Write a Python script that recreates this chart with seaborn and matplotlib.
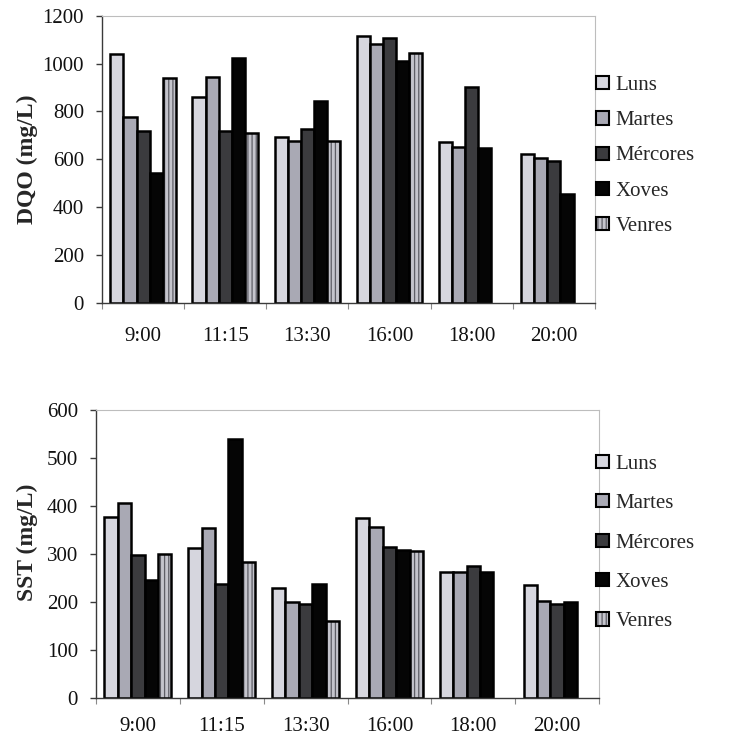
import numpy as np
import pandas as pd
import matplotlib
matplotlib.use("Agg")
import matplotlib.pyplot as plt
from matplotlib.colors import to_rgba
import seaborn as sns

# Sampling hours and weekdays
horas = ["9:00", "11:15", "13:30", "16:00", "18:00", "20:00"]
dias = ["Luns", "Martes", "Mércores", "Xoves", "Venres"]

# DQO (mg/L) per weekday, one value per sampling hour
dqo_luns = [1040, 860, 692, 1117, 671, 624]
dqo_martes = [776, 945, 675, 1082, 650, 604]
dqo_mercores = [717, 720, 725, 1108, 903, 593]
dqo_xoves = [545, 1022, 843, 1011, 647, 455]
dqo_venres = [939, 710, 676, 1043, np.nan, np.nan]

# SST (mg/L) per weekday, one value per sampling hour
sst_luns = [377, 313, 230, 374, 263, 235]
sst_martes = [406, 354, 201, 356, 263, 202]
sst_mercores = [297, 238, 195, 315, 274, 195]
sst_xoves = [245, 540, 238, 308, 262, 199]
sst_venres = [299, 283, 161, 307, np.nan, np.nan]

cores = ["#d6d6de", "#a9a9b4", "#3b3b3e", "#050505", "#c4c4cc"]
cor_raias = "#5e5e66"


def taboa(series):
    filas = []
    for dia, valores in zip(dias, series):
        for hora, v in zip(horas, valores):
            filas.append({"hora": hora, "dia": dia, "valor": v})
    return pd.DataFrame(filas)


def raiar(patch):
    patch.set_hatch("||||")
    if hasattr(patch, "set_hatchcolor"):
        patch.set_hatchcolor(cor_raias)
    else:
        patch._hatch_color = to_rgba(cor_raias)


sns.set_theme(style="white")
plt.rcParams["font.family"] = ["Liberation Serif", "DejaVu Serif"]
plt.rcParams["hatch.linewidth"] = 0.9

fig = plt.figure(figsize=(7.31, 7.39), dpi=100)

paneis = [
    dict(df=taboa([dqo_luns, dqo_martes, dqo_mercores, dqo_xoves, dqo_venres]),
         rect=[102 / 731, 1 - 303 / 739, 493 / 731, 287.3 / 739],
         ylim=1200, step=200, label="DQO (mg/L)", legy=1 - 156 / 739,
         legsp=0.78, labx=(38 - 102) / 493, laby=0.5, xpad=17),
    dict(df=taboa([sst_luns, sst_martes, sst_mercores, sst_xoves, sst_venres]),
         rect=[96 / 731, 1 - 698 / 739, 503 / 731, 288 / 739],
         ylim=600, step=100, label="SST (mg/L)", legy=1 - 543 / 739,
         legsp=0.98, labx=(38 - 96) / 503, laby=0.54, xpad=14),
]

for p in paneis:
    ax = fig.add_axes(p["rect"])
    sns.barplot(data=p["df"], x="hora", y="valor", hue="dia",
                order=horas, hue_order=dias, palette=cores,
                edgecolor="black", linewidth=1.8, width=0.8, gap=0,
                saturation=1, errorbar=None, ax=ax)
    for patch in ax.containers[4]:
        raiar(patch)

    ax.set_xlim(-0.5, 5.5)
    ax.set_ylim(0, p["ylim"])
    ax.set_yticks(np.arange(0, p["ylim"] + 1, p["step"]))
    ax.set_xlabel("")
    ax.set_ylabel(p["label"], fontsize=17, fontweight="bold", labelpad=0)
    ax.yaxis.set_label_coords(p["labx"], p["laby"])

    for s in ["top", "right"]:
        ax.spines[s].set_color("#bdbdbd")
        ax.spines[s].set_linewidth(0.8)
    for s in ["left", "bottom"]:
        ax.spines[s].set_color("#3a3a3a")
        ax.spines[s].set_linewidth(1.0)

    ax.tick_params(axis="y", which="major", left=True, length=4, width=1,
                   color="#3a3a3a", pad=9, labelsize=15, labelcolor="#111111")
    ax.tick_params(axis="x", which="major", bottom=False, length=0,
                   pad=p["xpad"], labelsize=15, labelcolor="#111111")
    ax.set_xticks(np.arange(-0.5, 5.6, 1.0), minor=True)
    ax.tick_params(axis="x", which="minor", bottom=True, length=4, width=0.8,
                   color="#8a8a8a")

    handles, labels = ax.get_legend_handles_labels()
    ax.get_legend().remove()
    leg = fig.legend(handles, labels, loc="center left",
                     bbox_to_anchor=(596 / 731, p["legy"]),
                     frameon=False, fontsize=15, handlelength=0.6,
                     handleheight=0.6, handletextpad=0.35,
                     labelspacing=p["legsp"], borderpad=0, borderaxespad=0)
    for h in leg.legend_handles:
        h.set_edgecolor("black")
        h.set_linewidth(1.5)
    raiar(leg.legend_handles[4])

fig.savefig("out.png", dpi=100)
